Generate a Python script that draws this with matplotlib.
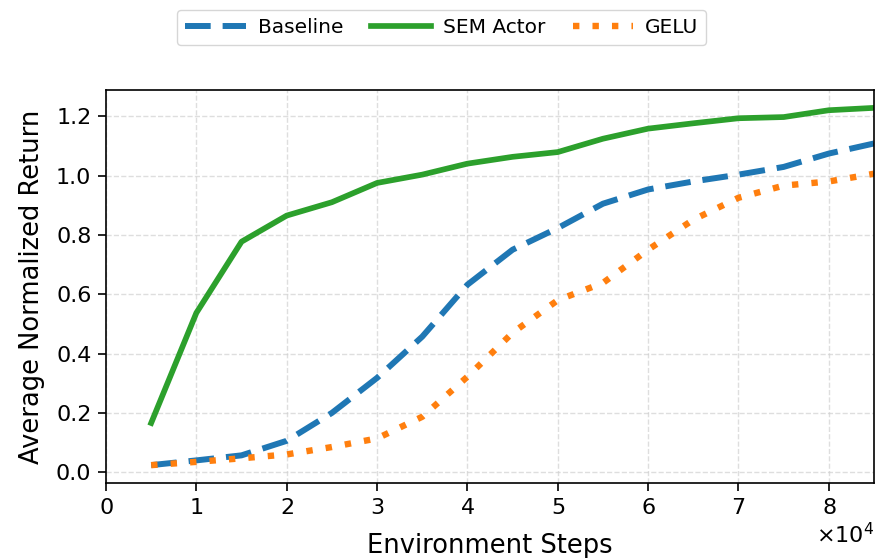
import matplotlib
matplotlib.use("Agg")
import matplotlib.pyplot as plt

steps = [5000, 10000, 15000, 20000, 25000, 30000, 35000, 40000, 45000,
         50000, 55000, 60000, 65000, 70000, 75000, 80000, 85000]
baseline = [0.024, 0.040, 0.057, 0.106, 0.200, 0.318, 0.457, 0.632, 0.750,
            0.823, 0.905, 0.953, 0.980, 1.003, 1.029, 1.074, 1.108]
sem_actor = [0.166, 0.537, 0.777, 0.865, 0.910, 0.975, 1.003, 1.040, 1.063,
             1.079, 1.124, 1.158, 1.176, 1.193, 1.197, 1.220, 1.228]
gelu = [0.024, 0.035, 0.047, 0.060, 0.085, 0.114, 0.187, 0.322, 0.470,
        0.580, 0.638, 0.750, 0.851, 0.925, 0.966, 0.980, 1.006]

fig = plt.figure(figsize=(8.75, 5.58), dpi=100)
ax = fig.add_axes([106/875, 1-483/558, (874-106)/875, (483-90)/558])

ax.plot(steps, baseline, color='#1f77b4', lw=4.3, ls=(0, (4.3, 2.0)), label='Baseline')
ax.plot(steps, sem_actor, color='#2ca02c', lw=4.1, ls='-', label='SEM Actor')
ax.plot(steps, gelu, color='#ff7f0e', lw=4.6, ls=(0, (1, 2.05)), label='GELU')

ax.set_xlim(0, 85000)
ax.grid(True, ls='--', color='#d0d0d0', alpha=0.7, lw=1)
ax.ticklabel_format(style='sci', axis='x', scilimits=(0, 0), useMathText=True)
ax.tick_params(labelsize=16, length=6, width=1.2, pad=4.5)
ax.xaxis.get_offset_text().set_fontsize(16)
for s in ax.spines.values():
    s.set_linewidth(1.2)
ax.set_xlabel('Environment Steps', fontsize=18.5, labelpad=11)
ax.set_ylabel('Average Normalized Return', fontsize=18.5, labelpad=8)

fig.legend(loc='upper center', bbox_to_anchor=(0.505, 1.0), ncol=3, fontsize=14.5,
           frameon=True, handlelength=3.0, handletextpad=0.6, columnspacing=1.35)

fig.savefig('out.png', dpi=100)
